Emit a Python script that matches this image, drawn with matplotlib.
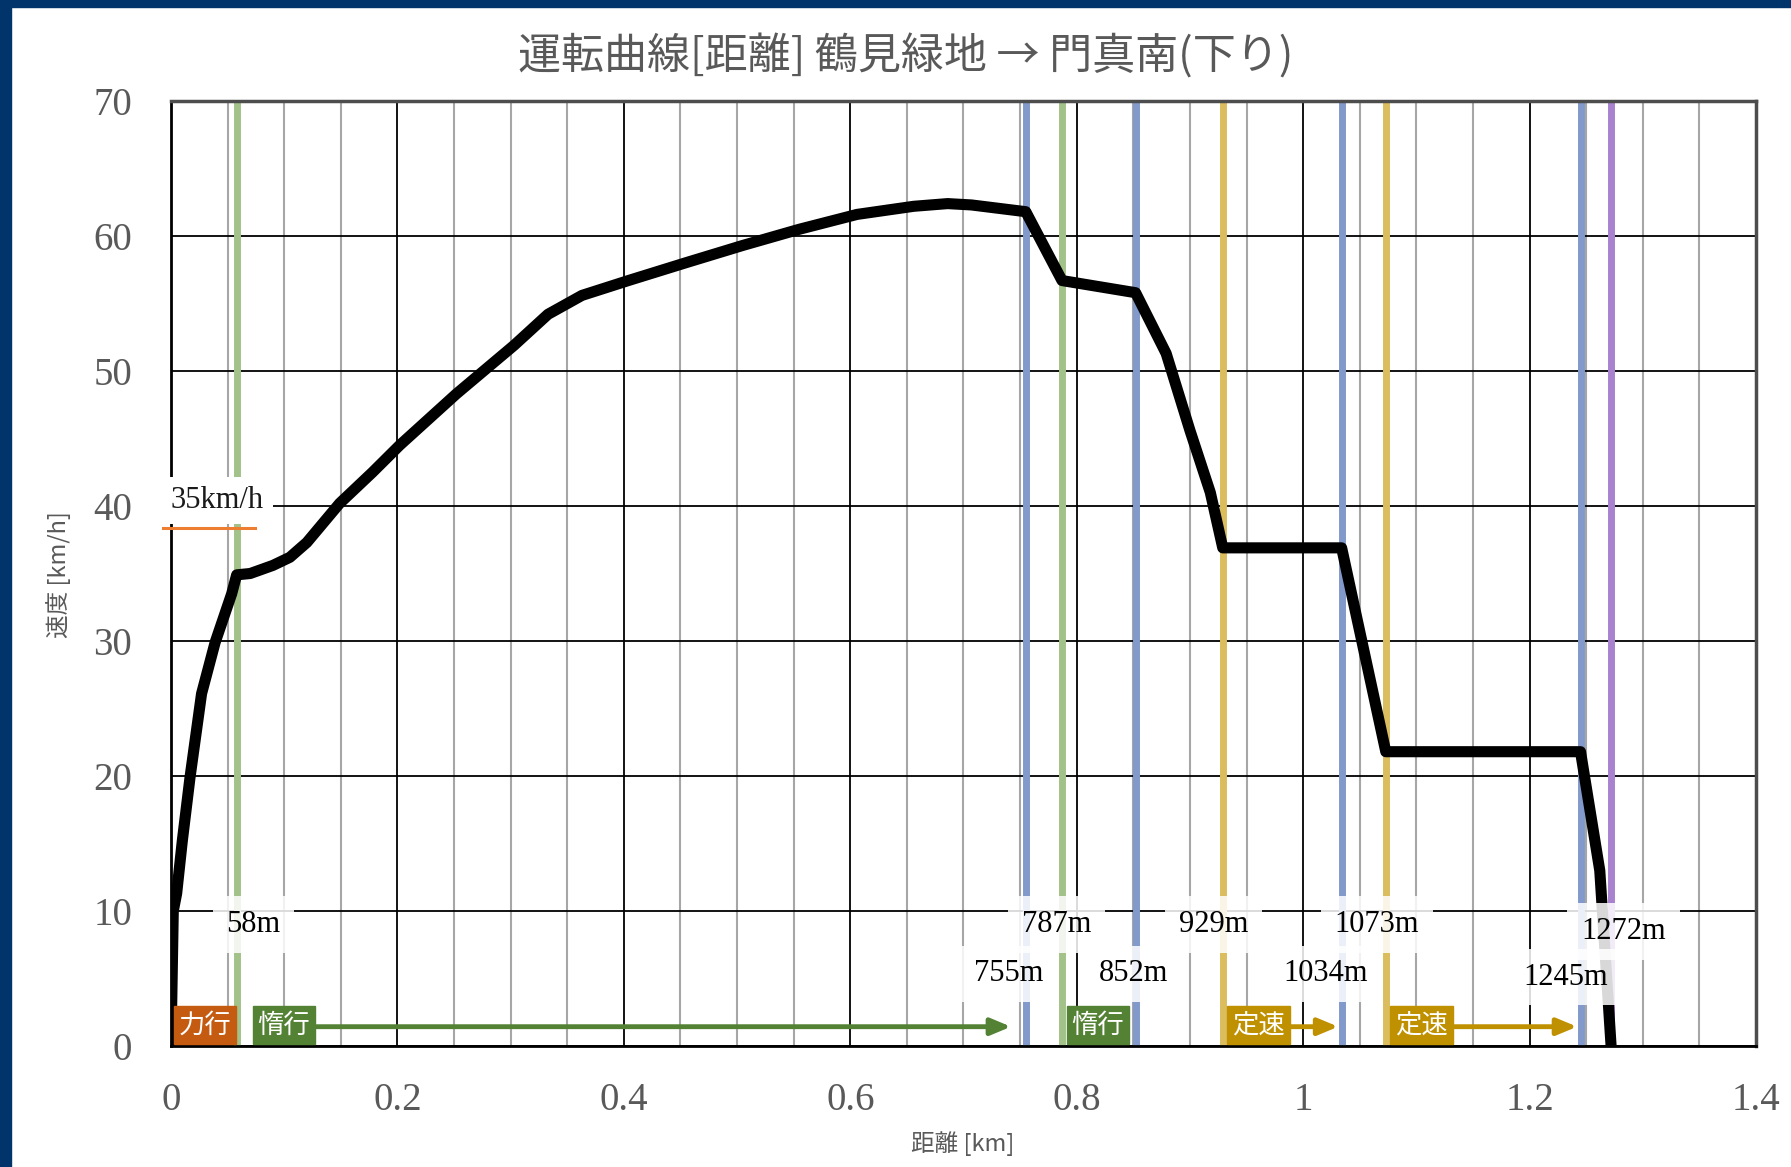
import matplotlib
matplotlib.use("Agg")
import matplotlib.pyplot as plt
from matplotlib.patches import Rectangle

# ---- data -------------------------------------------------------------
# running curve: distance [km] vs speed [km/h]
distance_km = [0, 0.001, 0.002, 0.005, 0.010, 0.0168, 0.027, 0.039, 0.0536, 0.058,
               0.070, 0.090, 0.105, 0.120, 0.149, 0.178, 0.202, 0.252, 0.303, 0.333,
               0.363, 0.404, 0.454, 0.505, 0.555, 0.606, 0.656, 0.686, 0.707, 0.755,
               0.787, 0.852, 0.879, 0.900, 0.918, 0.929, 1.034, 1.073, 1.245, 1.262,
               1.272]
speed_kmh = [0, 5, 10, 11.3, 15.2, 19.9, 26.1, 29.9, 33.5, 34.9,
             35.0, 35.6, 36.2, 37.3, 40.2, 42.5, 44.5, 48.3, 51.9, 54.2,
             55.6, 56.7, 58.0, 59.3, 60.5, 61.6, 62.2, 62.4, 62.3, 61.8,
             56.7, 55.8, 51.3, 45.6, 41.0, 36.9, 36.9, 21.8, 21.8, 13.0,
             0]

# event markers (distance in metres) and their line kinds
event_m = [58, 755, 787, 852, 929, 1034, 1073, 1245, 1272]
event_kind = ["coast", "brake", "coast", "brake", "const", "brake", "const", "brake", "stop"]

# running modes: label, start [m], end [m]
mode_labels = ["力行", "惰行", "惰行", "定速", "定速"]
mode_start_m = [0, 58, 787, 929, 1073]
mode_end_m = [58, 755, 852, 1034, 1245]

limit_text = "35km/h"

x_ticks = [0, 0.2, 0.4, 0.6, 0.8, 1.0, 1.2, 1.4]
x_tick_labels = ["0", "0.2", "0.4", "0.6", "0.8", "1", "1.2", "1.4"]
y_ticks = [0, 10, 20, 30, 40, 50, 60, 70]

title = "運転曲線[距離] 鶴見緑地 → 門真南(下り)"
xlabel = "距離 [km]"
ylabel = "速度 [km/h]"

# ---- styles -----------------------------------------------------------
line_colors = {"coast": "#A3C28A", "brake": "#8199CB", "const": "#DCBD5E", "stop": "#A982CF"}
mode_colors = {"力行": "#C55A11", "惰行": "#548235", "定速": "#BF9000"}
TEXT_GRAY = "#595959"
SERIF = ["Liberation Serif", "DejaVu Serif"]
CJK = ["Noto Sans CJK JP", "DejaVu Sans"]

# label rows (upper / lower) and horizontal shift in km for each event label
label_row = [9.0, 5.35, 9.0, 5.35, 9.0, 5.35, 9.0, 5.1, 8.5]
label_shift = [0.015, -0.015, -0.005, -0.002, -0.008, -0.014, -0.008, -0.013, 0.011]

W, H = 1791, 1167
fig = plt.figure(figsize=(W / 100, H / 100), dpi=100)
fig.patch.set_facecolor("white")

# navy frame strips along the left and top edges
fig.add_artist(Rectangle((0, 0), 11 / W, 1, transform=fig.transFigure,
                         color="#00346B", zorder=0))
fig.add_artist(Rectangle((0, 1 - 7 / H), 1, 7 / H, transform=fig.transFigure,
                         color="#00346B", zorder=0))

ax = fig.add_axes([171 / W, 1 - 1046 / H, (1756 - 171) / W, (1046 - 101) / H])
ax.set_xlim(0, 1.4)
ax.set_ylim(0, 70)

ax.set_xticks(x_ticks)
ax.set_xticklabels(x_tick_labels)
ax.set_xticks([i * 0.05 for i in range(29)], minor=True)
ax.set_yticks(y_ticks)
ax.tick_params(which="both", length=0)
ax.tick_params(axis="y", pad=28)
ax.tick_params(axis="x", pad=26)
for lab in ax.get_xticklabels() + ax.get_yticklabels():
    lab.set_fontfamily(SERIF)
    lab.set_fontsize(28)
    lab.set_color(TEXT_GRAY)

ax.set_axisbelow(True)
ax.grid(which="minor", axis="x", color="#A6A6A6", lw=1.5, zorder=0)
ax.grid(which="major", axis="both", color="black", lw=1.3, zorder=0.5)

for side in ["left", "bottom"]:
    ax.spines[side].set_color("black")
    ax.spines[side].set_linewidth(2.0)
for side in ["top", "right"]:
    ax.spines[side].set_color("#4D4D4D")
    ax.spines[side].set_linewidth(2.5)

# event lines
for d, k in zip(event_m, event_kind):
    ax.axvline(d / 1000, color=line_colors[k], lw=5, zorder=1)

# speed curve
ax.plot(distance_km, speed_kmh, color="black", lw=8, solid_joinstyle="round",
        solid_capstyle="butt", zorder=2)

# event distance labels
for d, row, sh in zip(event_m, label_row, label_shift):
    ax.text(d / 1000 + sh, row, f"{d}m", fontsize=22, family=SERIF, color="black",
            ha="center", va="center", zorder=4,
            bbox=dict(boxstyle="square,pad=0.45", fc="white", ec="none", alpha=0.85))

# running mode boxes with arrows
box_w = 0.055
box_top = 3.0
for lab, s, e in zip(mode_labels, mode_start_m, mode_end_m):
    c = mode_colors[lab]
    s_km, e_km = s / 1000, e / 1000
    x0 = s_km + (0.0026 if s == 0 else (0.014 if s == 58 else 0.004))
    ax.add_patch(Rectangle((x0, 0.15), box_w, box_top - 0.15, color=c, zorder=5))
    ax.text(x0 + box_w / 2, box_top / 2 + 0.05, lab, fontsize=19, family=CJK,
            color="white", ha="center", va="center", zorder=6)
    arrow_end = e_km - (0.013 if e == 755 else 0.003)
    if s != 0 and arrow_end - (x0 + box_w) > 0.02:
        ax.annotate("", xy=(arrow_end, 1.43), xytext=(x0 + box_w, 1.43),
                    arrowprops=dict(arrowstyle="-|>,head_length=1.2,head_width=0.5",
                                    color=c, lw=3.5, shrinkA=0, shrinkB=0),
                    zorder=4)

# speed limit note
ax.plot([-0.007, 0.074], [38.4, 38.4], color="#ED7D31", lw=2.2, clip_on=False, zorder=4)
ax.text(0.041, 40.4, limit_text, fontsize=22, family=SERIF, color="#1A1A1A",
        ha="center", va="center", zorder=4, clip_on=False,
        bbox=dict(boxstyle="square,pad=0.3", fc="white", ec="none"))

fig.text(793 / 1568, 1 - 57 / H, title, fontsize=31, family=CJK, color=TEXT_GRAY,
         ha="center", va="center")
fig.text(963 / W, 1 - 1144 / H, xlabel, fontsize=17, family=CJK, color=TEXT_GRAY,
         ha="center", va="center")
fig.text(59 / W, 1 - 575 / H, ylabel, fontsize=17, family=CJK, color=TEXT_GRAY,
         ha="center", va="center", rotation=90)

fig.savefig("out.png", dpi=100)
